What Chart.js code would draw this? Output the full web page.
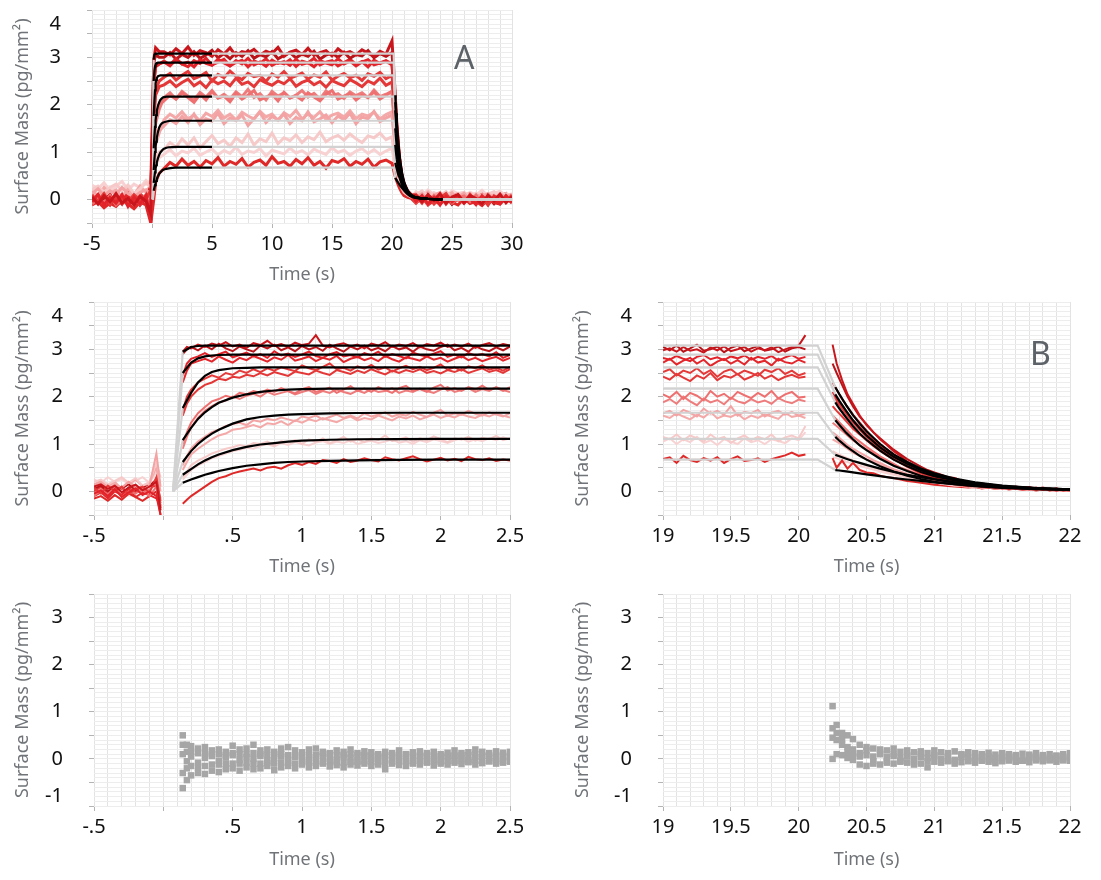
<!DOCTYPE html>
<html><head><meta charset="utf-8">
<script src="https://cdn.jsdelivr.net/npm/chart.js@4.4.1/dist/chart.umd.min.js"></script>
<style>
html,body{margin:0;padding:0;background:#fff}
body{width:1101px;height:880px;position:relative;overflow:hidden;font-family:'Noto Sans',sans-serif}
.p{position:absolute}
.p canvas{display:block}
.lbl{position:absolute;color:#5c6268;font:32px/32px 'Noto Sans',sans-serif}
</style></head><body>
<div class="p" style="left:0;top:0"><canvas id="cA" width="530" height="290"></canvas></div>
<div class="p" style="left:0;top:290px"><canvas id="cML" width="530" height="290"></canvas></div>
<div class="p" style="left:560px;top:290px"><canvas id="cMR" width="541" height="290"></canvas></div>
<div class="p" style="left:0;top:580px"><canvas id="cBL" width="530" height="300"></canvas></div>
<div class="p" style="left:560px;top:580px"><canvas id="cBR" width="541" height="300"></canvas></div>
<div class="lbl" style="left:454px;top:41px">A</div>
<div class="lbl" style="left:1030px;top:337px">B</div>
<script>
// ---------- tick labels ----------
const yLabelsTop = {'3.7':'4','3':'3','2':'2','1':'1','0':'0'};
const yLabelsBottom = {'3':'3','2':'2','1':'1','0':'0','-0.8':'-1'};

// ---------- panel A (full run) ----------
const tA = [-5,-4.5,-4,-3.5,-3,-2.5,-2,-1.5,-1,-0.5,-0.1,
 0.15,0.3,0.6,
 1,1.5,2,2.5,3,3.5,4,4.5,5,5.5,6,6.5,7,7.5,8,8.5,9,9.5,10,10.5,11,11.5,12,12.5,13,13.5,14,14.5,15,15.5,16,16.5,17,17.5,18,18.5,19,19.5,20,
 20.25,20.4,20.6,20.8,21,21.3,21.6,
 22,22.5,23,23.5,24,24.5,25,25.5,26,26.5,27,27.5,28,28.5,29,29.5,30,30.5,31];
const a1 = [0.05,-0.1,0.08,-0.05,0.12,-0.08,0.02,-0.12,0.06,-0.04,-0.3,
 2.95,3.2,3.12,
 3.12,3.05,3.18,3.08,3.22,3.04,3.14,3.1,3.02,3.16,3.07,3.2,3.03,3.12,3.09,3.17,3.05,3.13,3.08,3.21,3.02,3.11,3.15,3.06,3.19,3.04,3.1,3.14,3.03,3.18,3.08,3.12,3.05,3.16,3.09,3.02,3.13,3.07,3.35,
 2.3,1.6,0.95,0.55,0.35,0.18,0.1,
 0.08,-0.05,0.1,-0.02,0.12,-0.08,0.05,0.1,-0.06,0.08,0.02,-0.1,0.09,-0.03,0.11,-0.07,0.06,0.0,0.1];
const a2 = [-0.05,0.1,-0.12,0.04,-0.08,0.1,-0.15,0.05,-0.1,0.08,-0.45,
 2.5,2.82,2.86,
 2.92,2.84,2.97,2.86,2.9,2.8,2.95,2.87,2.83,2.96,2.88,2.82,2.93,2.86,2.98,2.84,2.9,2.81,2.94,2.87,2.91,2.83,2.96,2.85,2.89,2.8,2.93,2.88,2.84,2.97,2.86,2.92,2.82,2.9,2.95,2.84,2.88,2.93,2.86,
 2.1,1.5,0.9,0.52,0.32,0.17,0.09,
 -0.05,0.08,-0.1,0.04,-0.12,0.06,-0.04,0.09,-0.08,0.02,-0.11,0.07,-0.03,0.05,-0.09,0.08,-0.06,0.03,-0.02];
const a3 = [0.08,-0.04,0.12,-0.1,0.05,0.02,-0.06,0.1,-0.02,0.0,0.2,
 1.8,2.3,2.5,
 2.58,2.66,2.52,2.62,2.7,2.55,2.6,2.68,2.5,2.64,2.57,2.71,2.6,2.53,2.66,2.59,2.62,2.49,2.65,2.58,2.7,2.56,2.61,2.67,2.54,2.63,2.58,2.69,2.52,2.6,2.66,2.57,2.62,2.51,2.65,2.6,2.68,2.55,2.62,
 1.9,1.35,0.82,0.48,0.28,0.14,0.08,
 0.1,-0.04,0.06,-0.1,0.03,0.12,-0.06,0.04,-0.08,0.1,-0.02,0.05,-0.11,0.07,0.0,-0.05,0.09,-0.07,0.04];
const a4 = [-0.1,0.02,-0.06,0.08,-0.12,0.0,-0.05,0.06,-0.1,0.1,-0.3,
 1.1,1.7,2.0,
 2.08,2.2,2.12,2.25,2.15,2.05,2.22,2.1,2.28,2.14,2.18,2.06,2.24,2.12,2.2,2.3,2.1,2.16,2.22,2.08,2.26,2.14,2.19,2.1,2.25,2.16,2.08,2.22,2.3,2.12,2.18,2.24,2.1,2.2,2.15,2.27,2.12,2.2,2.28,
 1.55,1.1,0.68,0.4,0.24,0.12,0.07,
 -0.06,0.05,-0.1,0.08,-0.03,0.1,-0.08,0.02,0.07,-0.05,0.09,-0.1,0.04,-0.02,0.08,-0.07,0.05,-0.04,0.06];
const a5 = [0.12,0.22,0.08,0.18,0.1,0.25,0.12,0.05,0.15,0.2,0.1,
 0.6,1.2,1.45,
 1.55,1.68,1.6,1.75,1.62,1.8,1.58,1.7,1.65,1.82,1.6,1.72,1.66,1.78,1.56,1.7,1.84,1.62,1.75,1.68,1.8,1.6,1.73,1.66,1.85,1.64,1.7,1.78,1.62,1.76,1.68,1.82,1.6,1.74,1.7,1.86,1.64,1.72,1.78,
 1.2,0.85,0.52,0.3,0.18,0.1,0.06,
 0.05,0.12,-0.02,0.08,0.14,0.0,0.1,0.04,0.13,-0.03,0.09,0.06,0.12,0.0,0.1,0.05,0.11,-0.02,0.08];
const a6 = [0.2,0.28,0.15,0.25,0.32,0.18,0.3,0.12,0.22,0.35,0.25,
 0.35,0.8,1.0,
 1.05,1.2,1.1,1.28,1.15,1.3,1.08,1.22,1.35,1.18,1.25,1.12,1.3,1.2,1.38,1.15,1.28,1.22,1.4,1.18,1.3,1.24,1.36,1.2,1.32,1.26,1.42,1.22,1.3,1.35,1.25,1.38,1.28,1.2,1.34,1.3,1.4,1.26,1.32,
 0.8,0.6,0.38,0.24,0.15,0.09,0.05,
 0.1,0.18,0.06,0.14,0.08,0.16,0.04,0.12,0.15,0.07,0.13,0.05,0.11,0.16,0.08,0.12,0.04,0.1,0.14];
const a7 = [-0.12,-0.05,-0.18,-0.08,-0.15,-0.02,-0.1,-0.2,-0.06,-0.12,-0.5,
 0.0,0.35,0.55,
 0.65,0.78,0.7,0.85,0.72,0.8,0.68,0.82,0.75,0.88,0.7,0.8,0.74,0.86,0.68,0.78,0.83,0.72,0.9,0.76,0.8,0.7,0.84,0.75,0.88,0.72,0.8,0.66,0.82,0.78,0.86,0.7,0.8,0.74,0.85,0.68,0.79,0.83,0.76,
 0.5,0.38,0.25,0.15,0.08,0.04,0.02,
 -0.08,0.04,-0.12,-0.02,-0.1,0.05,-0.06,-0.12,0.02,-0.09,-0.04,-0.13,0.0,-0.07,-0.1,0.03,-0.08,-0.05,-0.11];
// replicate injections (panel A)
const ab1 = [-0.08,0.06,-0.02,0.1,-0.1,0.04,-0.06,0.08,-0.12,0.02,0.25,
 2.9,3.05,3.0,
 3.0,3.1,2.96,3.06,3.0,3.12,2.98,3.05,3.15,2.99,3.08,2.97,3.1,3.02,3.14,2.98,3.06,3.01,3.12,2.97,3.04,3.1,2.99,3.07,3.02,3.13,2.96,3.05,3.09,3.0,3.11,2.98,3.06,3.03,3.14,2.99,3.08,3.02,3.1,
 2.2,1.55,0.92,0.5,0.3,0.16,0.08,
 0.02,0.1,-0.08,0.06,-0.04,0.12,-0.1,0.03,0.08,-0.06,0.1,-0.02,0.05,-0.09,0.07,0.12,-0.04,0.06,-0.08];
const ab2 = [0.1,-0.06,0.04,-0.12,0.08,-0.03,0.12,-0.08,0.05,-0.05,-0.2,
 2.4,2.8,2.86,
 2.9,2.82,2.95,2.86,2.8,2.93,2.87,2.98,2.84,2.9,2.96,2.82,2.89,2.94,2.8,2.92,2.87,2.97,2.83,2.9,2.86,2.95,2.81,2.92,2.88,2.98,2.84,2.9,2.93,2.82,2.89,2.96,2.85,2.91,2.8,2.94,2.87,2.92,2.84,
 2.0,1.42,0.85,0.48,0.28,0.15,0.08,
 -0.02,0.06,-0.09,0.1,-0.05,0.03,-0.1,0.07,-0.03,0.09,-0.07,0.04,-0.12,0.06,0.0,0.08,-0.05,0.1,-0.03];
const ab3 = [-0.04,0.1,-0.08,0.06,0.0,-0.1,0.08,-0.05,0.12,-0.02,0.3,
 1.7,2.2,2.38,
 2.42,2.5,2.38,2.47,2.54,2.4,2.48,2.36,2.52,2.44,2.5,2.4,2.56,2.43,2.48,2.38,2.53,2.46,2.41,2.5,2.44,2.55,2.39,2.47,2.52,2.42,2.49,2.37,2.51,2.45,2.4,2.53,2.46,2.38,2.5,2.44,2.56,2.41,2.48,
 1.8,1.28,0.78,0.45,0.27,0.14,0.07,
 0.06,-0.08,0.1,-0.03,0.08,-0.1,0.05,0.12,-0.06,0.02,0.09,-0.08,0.04,-0.02,0.1,-0.06,0.03,0.08,-0.04];
const ab4 = [0.06,-0.08,0.1,-0.02,0.05,-0.1,0.12,-0.04,0.08,0.0,-0.15,
 1.0,1.6,1.9,
 2.15,2.25,2.12,2.28,2.18,2.1,2.26,2.16,2.3,2.14,2.22,2.12,2.27,2.17,2.32,2.15,2.23,2.1,2.28,2.18,2.25,2.14,2.2,2.3,2.16,2.24,2.12,2.29,2.18,2.23,2.13,2.27,2.19,2.25,2.15,2.31,2.17,2.22,2.28,
 1.35,0.95,0.6,0.35,0.2,0.11,0.06,
 -0.04,0.08,-0.06,0.1,0.0,-0.08,0.06,-0.02,0.09,-0.05,0.04,0.11,-0.07,0.05,-0.03,0.08,-0.06,0.02,0.07];
const ab5 = [0.18,0.08,0.25,0.12,0.2,0.05,0.22,0.1,0.28,0.15,0.3,
 0.55,1.15,1.4,
 1.68,1.8,1.72,1.85,1.7,1.78,1.66,1.82,1.75,1.88,1.72,1.8,1.68,1.84,1.76,1.7,1.86,1.74,1.8,1.67,1.83,1.75,1.88,1.7,1.8,1.73,1.85,1.69,1.78,1.82,1.74,1.87,1.71,1.8,1.76,1.84,1.7,1.79,1.85,
 1.0,0.72,0.45,0.27,0.16,0.09,0.05,
 0.12,0.04,0.15,0.0,0.1,0.06,0.14,-0.02,0.09,0.12,0.03,0.1,0.07,0.15,0.02,0.11,0.06,0.13,0.04];
const ab6 = [0.3,0.22,0.35,0.18,0.28,0.38,0.2,0.32,0.25,0.4,0.3,
 0.3,0.7,0.88,
 0.95,1.05,0.92,1.02,0.98,1.08,0.93,1.0,1.06,0.94,1.03,0.97,1.1,0.95,1.02,0.99,1.07,0.92,1.04,1.0,0.96,1.08,0.98,1.03,0.94,1.06,1.0,0.95,1.09,0.99,1.04,0.93,1.02,1.07,0.97,1.05,0.95,1.02,1.08,
 0.72,0.52,0.33,0.2,0.12,0.07,0.04,
 0.16,0.08,0.2,0.1,0.14,0.05,0.18,0.12,0.06,0.15,0.09,0.19,0.07,0.13,0.17,0.06,0.12,0.15,0.08];

// ---------- association zoom (middle left) ----------
const tMpre = [-0.5,-0.45,-0.4,-0.35,-0.3,-0.25,-0.2,-0.15,-0.1,-0.05,-0.02];
const tMpost = [0.14,0.17,0.2,0.25,0.3,0.35,0.4,0.45,0.5,0.55,0.6,0.65,0.7,0.75,0.8,0.85,0.9,0.95,1,1.05,1.1,1.15,1.2,1.25,1.3,1.35,1.4,1.45,1.5,1.55,1.6,1.65,1.7,1.75,1.8,1.85,1.9,1.95,2,2.05,2.1,2.15,2.2,2.25,2.3,2.35,2.4,2.45,2.5,2.55];
const mp1 = [0.1,0.15,0.05,0.12,-0.02,0.08,0.14,0.02,0.1,0.2,-0.4];
const mp2 = [-0.05,0.02,-0.1,0.05,-0.12,-0.02,0.06,-0.08,0.0,-0.1,-0.5];
const mp3 = [0.08,-0.05,0.12,0.0,0.1,-0.06,0.05,0.1,-0.03,0.3,-0.2];
const mp4 = [-0.1,0.02,-0.06,0.08,-0.12,0.0,-0.05,0.06,-0.1,0.1,-0.3];
const mp5 = [0.12,0.18,0.05,0.15,0.08,0.2,0.1,0.02,0.12,0.8,0.1];
const mp6 = [0.2,0.25,0.15,0.22,0.3,0.18,0.28,0.12,0.2,0.6,0.3];
const mp7 = [-0.15,-0.1,-0.2,-0.08,-0.18,-0.05,-0.12,-0.2,-0.1,0.0,-0.5];
const m1 = [2.95,3.05,3.02,3.1,3.05,3.12,3.08,3.15,3.06,3.1,3.03,3.13,3.09,3.18,3.07,3.11,3.05,3.14,3.09,3.12,3.3,3.08,3.04,3.1,3.13,3.06,3.1,3.02,3.12,3.08,3.15,3.05,3.1,3.07,3.13,3.04,3.11,3.08,3.14,3.05,3.1,3.06,3.12,3.03,3.09,3.13,3.06,3.11,3.08,3.12];
const m2 = [2.45,2.7,2.8,2.85,2.92,2.84,2.9,2.95,2.83,2.88,2.93,2.85,2.9,2.82,2.96,2.87,2.91,2.84,2.89,2.95,2.86,2.82,2.9,2.94,2.85,2.88,2.83,2.92,2.87,2.95,2.84,2.9,2.86,2.81,2.93,2.88,2.85,2.91,2.96,2.84,2.89,2.83,2.92,2.87,2.9,2.85,2.94,2.82,2.88,2.9];
const m3 = [1.7,2.0,2.15,2.3,2.38,2.45,2.4,2.5,2.46,2.55,2.5,2.58,2.52,2.6,2.55,2.62,2.58,2.54,2.66,2.6,2.56,2.63,2.7,2.58,2.61,2.55,2.64,2.59,2.67,2.57,2.62,2.53,2.6,2.65,2.58,2.63,2.56,2.61,2.68,2.57,2.62,2.55,2.64,2.6,2.66,2.57,2.61,2.55,2.63,2.6];
const m4 = [1.0,1.25,1.45,1.65,1.78,1.9,1.95,2.02,1.98,2.08,2.05,2.12,2.08,2.15,2.1,2.18,2.12,2.07,2.16,2.2,2.1,2.14,2.19,2.08,2.15,2.22,2.12,2.17,2.1,2.2,2.14,2.08,2.18,2.23,2.12,2.16,2.1,2.19,2.25,2.13,2.18,2.12,2.2,2.15,2.23,2.14,2.19,2.12,2.2,2.22];
const m5 = [0.55,0.75,0.9,1.05,1.15,1.25,1.3,1.38,1.42,1.45,1.4,1.5,1.47,1.53,1.5,1.56,1.52,1.48,1.58,1.55,1.6,1.52,1.57,1.62,1.55,1.6,1.54,1.65,1.58,1.62,1.67,1.58,1.63,1.6,1.68,1.62,1.57,1.66,1.72,1.6,1.65,1.62,1.7,1.64,1.6,1.67,1.62,1.58,1.65,1.68];
const m6 = [0.3,0.42,0.55,0.65,0.72,0.8,0.85,0.9,0.93,0.98,0.95,1.02,1.0,1.05,0.98,1.06,1.03,1.08,1.0,1.1,1.05,1.12,1.02,1.08,1.15,1.05,1.1,1.04,1.12,1.08,1.18,1.06,1.1,1.14,1.05,1.12,1.08,1.16,1.1,1.04,1.12,1.09,1.15,1.07,1.13,1.1,1.17,1.08,1.12,1.14];
const m7 = [-0.26,-0.18,-0.1,0.0,0.1,0.2,0.28,0.32,0.38,0.42,0.45,0.48,0.44,0.5,0.52,0.48,0.55,0.6,0.56,0.62,0.58,0.66,0.64,0.6,0.68,0.62,0.65,0.7,0.66,0.63,0.72,0.68,0.65,0.7,0.74,0.68,0.63,0.67,0.71,0.65,0.69,0.64,0.73,0.68,0.66,0.7,0.64,0.67,0.65,0.68];
// replicate injections
const mpb1 = [0.05,0.12,0.0,0.1,0.06,0.15,0.02,0.08,0.12,0.25,-0.35];
const mpb2 = [-0.1,-0.02,-0.15,0.0,-0.08,0.04,-0.12,-0.03,-0.08,-0.15,-0.3];
const mpb3 = [0.0,0.1,-0.04,0.06,-0.08,0.08,-0.02,0.04,0.12,0.1,-0.25];
const mpb4 = [-0.05,0.05,-0.1,0.02,0.06,-0.04,0.08,-0.02,0.04,0.15,-0.15];
const mpb5 = [0.15,0.22,0.1,0.2,0.05,0.15,0.25,0.1,0.18,0.5,0.0];
const mpb6 = [0.25,0.18,0.3,0.2,0.26,0.15,0.22,0.3,0.18,0.4,0.2];
const mb1 = [2.9,3.0,3.05,2.98,3.08,3.0,3.12,3.02,2.96,3.06,3.0,2.95,3.08,3.02,3.1,2.98,3.04,2.96,3.07,3.0,3.05,2.97,3.1,3.02,2.95,3.06,3.0,3.08,2.98,3.03,2.96,3.07,3.0,3.04,2.95,3.06,3.0,2.97,3.05,3.1,2.98,3.03,2.95,3.07,3.0,2.96,3.04,2.98,3.06,3.02];
const mb2 = [2.3,2.55,2.7,2.75,2.8,2.74,2.85,2.78,2.72,2.82,2.77,2.86,2.8,2.74,2.83,2.78,2.88,2.76,2.8,2.85,2.75,2.82,2.78,2.86,2.73,2.8,2.84,2.77,2.82,2.75,2.86,2.79,2.74,2.83,2.8,2.76,2.85,2.78,2.82,2.74,2.8,2.86,2.77,2.82,2.75,2.8,2.84,2.76,2.82,2.78];
const mb3 = [1.6,1.85,2.0,2.15,2.25,2.3,2.38,2.35,2.42,2.4,2.46,2.43,2.5,2.45,2.52,2.48,2.44,2.53,2.5,2.47,2.55,2.5,2.46,2.56,2.52,2.48,2.55,2.5,2.58,2.52,2.47,2.55,2.5,2.56,2.52,2.58,2.5,2.54,2.49,2.56,2.52,2.58,2.5,2.55,2.6,2.52,2.56,2.5,2.58,2.54];
const mb4 = [0.9,1.15,1.35,1.55,1.7,1.8,1.88,1.92,2.0,1.95,2.02,2.06,2.0,2.1,2.04,2.08,2.12,2.05,2.1,2.14,2.06,2.12,2.08,2.15,2.1,2.06,2.13,2.08,2.16,2.1,2.12,2.18,2.08,2.13,2.1,2.17,2.12,2.08,2.15,2.2,2.1,2.14,2.18,2.1,2.16,2.12,2.2,2.14,2.1,2.17];
const mb5 = [0.45,0.62,0.78,0.9,1.0,1.1,1.18,1.22,1.3,1.32,1.36,1.4,1.35,1.44,1.42,1.48,1.4,1.5,1.45,1.52,1.48,1.55,1.5,1.46,1.53,1.58,1.5,1.55,1.52,1.6,1.55,1.5,1.58,1.54,1.6,1.52,1.57,1.62,1.55,1.6,1.56,1.63,1.58,1.55,1.62,1.58,1.65,1.6,1.56,1.62];
const mb6 = [0.25,0.35,0.45,0.55,0.62,0.7,0.75,0.8,0.85,0.88,0.92,0.9,0.96,1.0,0.95,1.02,0.98,1.04,1.0,0.97,1.03,1.06,1.0,1.05,1.02,1.08,1.0,1.04,1.07,1.02,1.05,1.1,1.03,1.06,1.0,1.08,1.04,1.1,1.06,1.02,1.08,1.12,1.05,1.1,1.06,1.12,1.08,1.14,1.1,1.12];

// ---------- dissociation zoom (middle right) ----------
const tRpre = [19,19.05,19.1,19.15,19.2,19.25,19.3,19.35,19.4,19.45,19.5,19.55,19.6,19.65,19.7,19.75,19.8,19.85,19.9,19.95,20,20.05];
const tRpost = [20.25,20.28,20.32,20.36,20.4,20.45,20.5,20.55,20.6,20.65,20.7,20.75,20.8,20.85,20.9,20.95,21,21.05,21.1,21.15,21.2,21.25,21.3,21.35,21.4,21.45,21.5,21.55,21.6,21.65,21.7,21.75,21.8,21.85,21.9,21.95,22];
const rp1 = [2.98,3.02,2.95,3.05,2.97,3.0,2.93,3.04,2.98,3.06,2.96,3.0,3.05,2.95,3.02,2.98,3.04,2.94,3.0,3.05,3.08,3.3];
const rp2 = [2.82,2.78,2.86,2.8,2.75,2.84,2.88,2.79,2.83,2.77,2.85,2.81,2.87,2.78,2.84,2.8,2.86,2.76,2.83,2.88,2.8,2.84];
const rp3 = [2.52,2.58,2.45,2.55,2.5,2.6,2.48,2.56,2.42,2.53,2.58,2.47,2.55,2.5,2.44,2.57,2.52,2.6,2.48,2.55,2.45,2.5];
const rp4 = [2.05,1.98,2.1,1.95,2.08,2.02,1.92,2.12,2.0,2.06,1.95,2.1,2.03,1.97,2.08,2.0,2.12,1.96,2.05,2.1,1.98,2.0];
const rp5 = [1.65,1.7,1.6,1.72,1.66,1.58,1.75,1.64,1.7,1.62,1.8,1.6,1.68,1.65,1.72,1.58,1.66,1.7,1.62,1.68,1.6,1.65];
const rp6 = [1.15,1.1,1.2,1.08,1.18,1.12,1.05,1.2,1.1,1.15,1.02,1.12,1.18,1.08,1.15,1.1,1.2,1.06,1.14,1.18,1.12,1.38];
const rp7 = [0.68,0.72,0.6,0.75,0.66,0.62,0.7,0.65,0.72,0.6,0.68,0.74,0.64,0.66,0.7,0.62,0.68,0.72,0.76,0.82,0.75,0.78];
const r1 = [3.1,2.7,2.35,2.05,1.85,1.6,1.4,1.25,1.1,0.98,0.85,0.75,0.62,0.55,0.45,0.4,0.33,0.28,0.25,0.2,0.17,0.15,0.13,0.1,0.12,0.08,0.1,0.06,0.09,0.05,0.08,0.04,0.07,0.03,0.06,0.02,0.04];
const r2 = [2.3,2.15,1.95,1.78,1.62,1.45,1.28,1.12,1.0,0.88,0.78,0.68,0.58,0.5,0.42,0.36,0.3,0.26,0.22,0.18,0.15,0.12,0.14,0.1,0.08,0.11,0.06,0.09,0.05,0.07,0.04,0.08,0.03,0.06,0.02,0.05,0.03];
const r3 = [2.0,1.9,1.75,1.6,1.45,1.3,1.15,1.02,0.9,0.8,0.7,0.6,0.52,0.45,0.38,0.33,0.27,0.24,0.2,0.16,0.14,0.11,0.13,0.09,0.1,0.07,0.09,0.05,0.08,0.04,0.06,0.03,0.07,0.02,0.05,0.03,0.04];
const r4 = [1.6,1.52,1.4,1.28,1.16,1.05,0.94,0.84,0.74,0.66,0.58,0.5,0.44,0.38,0.33,0.28,0.24,0.2,0.17,0.15,0.12,0.1,0.12,0.08,0.1,0.06,0.08,0.05,0.07,0.04,0.06,0.03,0.05,0.02,0.04,0.03,0.02];
const r5 = [1.25,1.18,1.08,0.98,0.9,0.82,0.74,0.66,0.6,0.53,0.47,0.42,0.37,0.32,0.28,0.24,0.21,0.18,0.16,0.14,0.12,0.1,0.11,0.08,0.09,0.06,0.08,0.05,0.07,0.04,0.06,0.03,0.05,0.03,0.04,0.02,0.03];
const r6 = [0.85,0.8,0.75,0.7,0.65,0.6,0.55,0.5,0.46,0.42,0.38,0.34,0.3,0.27,0.24,0.21,0.19,0.16,0.14,0.12,0.11,0.09,0.1,0.07,0.09,0.06,0.07,0.05,0.06,0.04,0.05,0.03,0.05,0.02,0.04,0.02,0.03];
const r7 = [0.7,0.5,0.65,0.48,0.6,0.45,0.4,0.38,0.33,0.3,0.28,0.25,0.22,0.2,0.18,0.16,0.14,0.13,0.11,0.1,0.09,0.08,0.09,0.06,0.08,0.05,0.07,0.04,0.06,0.03,0.05,0.02,0.04,0.03,0.02,0.04,0.01];
// replicate injections
const rpb1 = [3.05,2.98,3.08,2.95,3.02,3.1,2.97,3.0,3.06,2.94,3.03,3.08,2.96,3.02,3.07,2.97,3.0,3.06,2.95,3.02,3.05,3.0];
const rpb2 = [2.72,2.8,2.68,2.76,2.82,2.7,2.78,2.65,2.74,2.8,2.7,2.77,2.68,2.82,2.72,2.76,2.66,2.8,2.73,2.7,2.78,2.72];
const rpb3 = [2.42,2.36,2.48,2.4,2.33,2.45,2.38,2.5,2.35,2.44,2.4,2.48,2.36,2.42,2.5,2.38,2.45,2.35,2.42,2.46,2.4,2.42];
const rpb4 = [1.88,1.95,1.85,2.0,1.9,1.82,1.96,1.88,1.93,1.84,1.98,1.9,1.86,1.95,1.88,1.92,1.85,1.97,1.9,1.86,1.94,1.9];
const rpb5 = [1.6,1.55,1.65,1.58,1.52,1.62,1.56,1.68,1.54,1.6,1.57,1.64,1.52,1.6,1.55,1.62,1.58,1.53,1.66,1.57,1.6,1.55];
const rpb6 = [1.05,1.12,1.0,1.1,1.04,1.15,1.02,1.08,0.98,1.1,1.05,1.0,1.12,1.04,1.08,1.0,1.1,1.06,1.02,1.12,1.08,1.25];
const rb1 = [2.7,2.5,2.25,2.0,1.8,1.58,1.42,1.25,1.12,1.0,0.88,0.78,0.68,0.6,0.52,0.45,0.4,0.35,0.3,0.28,0.22,0.2,0.17,0.14,0.15,0.11,0.12,0.08,0.1,0.07,0.09,0.05,0.08,0.04,0.06,0.03,0.05];
const rb2 = [2.1,1.95,1.8,1.65,1.5,1.36,1.2,1.08,0.95,0.85,0.75,0.65,0.56,0.48,0.42,0.36,0.31,0.27,0.23,0.2,0.16,0.14,0.12,0.1,0.11,0.08,0.09,0.06,0.08,0.05,0.07,0.04,0.06,0.03,0.05,0.03,0.04];
const rb3 = [1.8,1.7,1.58,1.45,1.32,1.2,1.08,0.96,0.86,0.76,0.68,0.6,0.52,0.46,0.4,0.35,0.3,0.26,0.22,0.19,0.16,0.14,0.12,0.1,0.11,0.08,0.09,0.06,0.07,0.05,0.06,0.04,0.05,0.03,0.04,0.02,0.03];
const rb4 = [1.45,1.38,1.28,1.18,1.08,0.98,0.88,0.8,0.72,0.64,0.57,0.5,0.45,0.4,0.35,0.3,0.26,0.23,0.2,0.17,0.15,0.13,0.11,0.1,0.09,0.08,0.07,0.06,0.06,0.05,0.05,0.04,0.04,0.03,0.03,0.02,0.02];
const rb5 = [1.1,1.05,0.98,0.9,0.82,0.75,0.68,0.62,0.56,0.5,0.45,0.4,0.36,0.32,0.28,0.25,0.22,0.19,0.17,0.15,0.13,0.11,0.1,0.09,0.08,0.07,0.06,0.06,0.05,0.05,0.04,0.04,0.03,0.03,0.03,0.02,0.02];
const rb6 = [0.72,0.7,0.66,0.62,0.58,0.54,0.5,0.46,0.42,0.38,0.35,0.32,0.29,0.26,0.23,0.21,0.19,0.17,0.15,0.13,0.12,0.1,0.09,0.08,0.08,0.07,0.06,0.05,0.05,0.04,0.04,0.03,0.03,0.03,0.02,0.02,0.02];

// ---------- fitted curves ----------
const tFa = [0.14,0.2,0.25,0.3,0.35,0.4,0.5,0.6,0.7,0.8,0.9,1,1.2,1.4,1.7,2,2.5,3,4,5];
const fa1 = [2.95,3.05,3.07,3.08,3.08,3.08,3.08,3.08,3.08,3.08,3.08,3.08,3.08,3.08,3.08,3.08,3.08,3.08,3.08,3.08];
const fa2 = [2.5,2.72,2.81,2.85,2.87,2.88,2.89,2.89,2.89,2.89,2.89,2.89,2.89,2.89,2.89,2.89,2.89,2.89,2.89,2.89];
const fa3 = [1.76,2.08,2.3,2.44,2.52,2.56,2.6,2.61,2.62,2.62,2.62,2.62,2.62,2.62,2.62,2.62,2.62,2.62,2.62,2.62];
const fa4 = [1.08,1.34,1.53,1.67,1.78,1.87,1.98,2.05,2.1,2.13,2.15,2.16,2.17,2.17,2.17,2.17,2.17,2.17,2.17,2.17];
const fa5 = [0.62,0.85,1.0,1.12,1.22,1.3,1.43,1.52,1.57,1.6,1.62,1.63,1.645,1.655,1.66,1.66,1.66,1.66,1.66,1.66];
const fa6 = [0.35,0.47,0.57,0.65,0.72,0.78,0.87,0.94,0.99,1.02,1.05,1.07,1.09,1.1,1.105,1.11,1.11,1.11,1.11,1.11];
const fa7 = [0.18,0.25,0.3,0.35,0.39,0.43,0.49,0.54,0.57,0.6,0.62,0.63,0.645,0.655,0.665,0.67,0.67,0.67,0.67,0.67];
const tFd = [20.27,20.3,20.35,20.4,20.45,20.5,20.6,20.7,20.8,20.9,21,21.15,21.3,21.5,21.75,22,22.5,23,24.2];
const fd1 = [2.2,2.05,1.82,1.61,1.43,1.27,1.0,0.78,0.62,0.48,0.38,0.27,0.19,0.12,0.07,0.04,0.02,0.01,0];
const fd2 = [2.05,1.91,1.7,1.5,1.33,1.18,0.93,0.73,0.58,0.45,0.35,0.25,0.18,0.11,0.07,0.04,0.02,0.01,0];
const fd3 = [1.88,1.75,1.56,1.38,1.22,1.09,0.86,0.67,0.53,0.41,0.32,0.23,0.16,0.1,0.06,0.035,0.02,0.01,0];
const fd4 = [1.5,1.4,1.24,1.1,0.97,0.87,0.69,0.54,0.43,0.33,0.26,0.19,0.13,0.09,0.05,0.03,0.015,0.01,0];
const fd5 = [1.15,1.07,0.95,0.85,0.75,0.67,0.53,0.42,0.33,0.26,0.2,0.15,0.11,0.07,0.045,0.03,0.015,0.01,0];
const fd6 = [0.77,0.74,0.69,0.64,0.6,0.56,0.48,0.41,0.35,0.3,0.25,0.19,0.15,0.1,0.06,0.04,0.02,0.01,0];
const fd7 = [0.45,0.44,0.42,0.4,0.38,0.36,0.32,0.28,0.25,0.22,0.19,0.15,0.12,0.09,0.06,0.04,0.02,0.01,0];
// times of the grey (unfitted) parts of the model
const tGrey = [0.07,0.14,5,20.14,20.27,24.2,31];

// ---------- residuals ----------
const res1 = [0.5,0.3,0.27,0.22,0.25,0.18,0.2,0.15,0.28,0.2,0.22,0.3,0.18,0.2,0.15,0.22,0.25,0.18,0.14,0.2,0.22,0.15,0.12,0.18,0.15,0.2,0.12,0.16,0.14,0.1,0.15,0.12,0.18,0.1,0.14,0.16,0.12,0.15,0.1,0.13,0.18,0.12,0.14,0.2,0.15,0.12,0.16,0.13,0.15,0.12];
const res2 = [0.1,-0.05,0.05,-0.08,0.02,0.06,-0.04,0.03,0.08,-0.02,0.04,0.0,0.06,-0.03,0.02,0.05,-0.02,0.04,0.0,-0.04,0.03,0.06,0.0,-0.02,0.04,0.02,-0.03,0.05,0.0,0.02,-0.02,0.04,0.0,0.03,-0.04,0.02,0.05,0.0,-0.02,0.03,0.06,0.01,-0.02,0.04,0.07,0.02,0.0,0.05,0.03,0.01];
const res3 = [-0.62,-0.45,-0.35,-0.3,-0.32,-0.25,-0.28,-0.22,-0.2,-0.25,-0.18,-0.22,-0.2,-0.15,-0.24,-0.18,-0.15,-0.2,-0.12,-0.18,-0.15,-0.1,-0.16,-0.13,-0.18,-0.12,-0.14,-0.1,-0.15,-0.12,-0.22,-0.1,-0.13,-0.15,-0.1,-0.12,-0.08,-0.14,-0.1,-0.12,-0.08,-0.11,-0.07,-0.12,-0.09,-0.05,-0.1,-0.08,-0.06,-0.12];
const res4 = [0.3,0.15,-0.15,0.12,-0.15,0.1,-0.12,0.08,-0.1,0.1,-0.08,0.12,-0.1,0.08,-0.1,0.1,-0.08,0.08,-0.06,0.08,-0.08,0.1,-0.06,0.08,-0.08,0.1,-0.06,0.08,-0.07,0.06,-0.1,0.08,-0.06,0.1,-0.08,0.06,-0.05,0.08,-0.06,0.07,-0.04,0.08,-0.06,0.1,-0.05,0.07,-0.06,0.09,-0.04,0.06];
const res5 = [-0.3,-0.2,0.15,-0.18,0.12,-0.12,0.1,-0.1,0.12,-0.1,0.1,-0.1,0.1,-0.08,0.1,-0.08,0.08,-0.1,0.08,-0.07,0.08,-0.06,0.1,-0.07,0.08,-0.06,0.08,-0.05,0.07,-0.06,0.08,-0.06,0.07,-0.05,0.08,-0.04,0.07,-0.06,0.06,-0.05,0.07,-0.05,0.08,-0.04,0.06,-0.05,0.07,-0.04,0.06,-0.05];
const resR1 = [1.12,0.72,0.55,0.5,0.42,0.3,0.25,0.22,0.2,0.18,0.22,0.15,0.18,0.14,0.16,0.12,0.18,0.14,0.12,0.16,0.1,0.14,0.12,0.1,0.13,0.09,0.12,0.1,0.08,0.11,0.09,0.12,0.08,0.1,0.07,0.1,0.12];
const resR2 = [0.45,0.4,0.3,0.25,0.2,0.12,0.08,0.05,0.1,0.04,0.06,0.02,0.05,0.0,0.04,0.02,0.06,0.0,0.03,-0.02,0.04,0.02,0.0,0.03,-0.01,0.02,0.04,0.0,0.02,-0.02,0.03,0.01,0.0,0.02,-0.01,0.02,0.04];
const resR3 = [0.0,0.1,0.08,0.02,-0.02,-0.12,-0.15,-0.1,-0.12,-0.08,-0.1,-0.06,-0.08,-0.12,-0.1,-0.18,-0.06,-0.08,-0.05,-0.1,-0.07,-0.05,-0.08,-0.04,-0.06,-0.09,-0.05,-0.03,-0.06,-0.04,-0.07,-0.03,-0.05,-0.02,-0.06,-0.03,-0.04];
const resR4 = [0.65,0.55,0.42,0.15,0.1,0.05,0.18,-0.05,0.12,-0.04,0.1,-0.04,0.08,-0.06,0.1,-0.05,0.08,-0.04,0.06,-0.05,0.08,-0.04,0.07,-0.03,0.06,-0.05,0.07,-0.03,0.05,-0.04,0.06,-0.02,0.05,-0.03,0.06,-0.02,0.05];

// ---------- build ----------
Chart.defaults.font.family = "'Noto Sans', sans-serif";
const TRACE_COL = ['#c9161c','#e2232a','#e53a3a','#ee7070','#f3a3a3','#f7caca','#df2929'];
const TRACE_COL_B = ['#b8141a','#e3262b','#e43838','#ef7c7c','#f4a8a8','#f8d2d2'];
const GREY_FIT = '#d2d2d2';
const TITLE_COL = '#707478';

const A = [a1,a2,a3,a4,a5,a6,a7], AB = [ab1,ab2,ab3,ab4,ab5,ab6];
const MP = [mp1,mp2,mp3,mp4,mp5,mp6,mp7], M = [m1,m2,m3,m4,m5,m6,m7];
const MPB = [mpb1,mpb2,mpb3,mpb4,mpb5,mpb6], MB = [mb1,mb2,mb3,mb4,mb5,mb6];
const RP = [rp1,rp2,rp3,rp4,rp5,rp6,rp7], R = [r1,r2,r3,r4,r5,r6,r7];
const RPB = [rpb1,rpb2,rpb3,rpb4,rpb5,rpb6], RB = [rb1,rb2,rb3,rb4,rb5,rb6];
const FA = [fa1,fa2,fa3,fa4,fa5,fa6,fa7], FD = [fd1,fd2,fd3,fd4,fd5,fd6,fd7];

const pts = (t, v) => t.map((x, i) => ({x, y: v[i]}));
const withGap = (a, gx, b) => a.concat([{x: gx, y: null}], b);
const line = (data, color, w, order) => ({data, borderColor: color, borderWidth: w, pointRadius: 0, fill: false, tension: 0, order, spanGaps: false});
const greyModel = k => {
  const f = FA[k], d = FD[k], P = f[f.length - 1];
  return [{x: tGrey[0], y: 0}, {x: tGrey[1], y: f[0]}, {x: tGrey[1] + 0.005, y: null},
          {x: tGrey[2], y: P}, {x: tGrey[3], y: P}, {x: tGrey[4], y: d[0]}, {x: tGrey[4] + 0.005, y: null},
          {x: tGrey[5], y: 0}, {x: tGrey[6], y: 0}];
};
const squares = (t, v) => ({data: pts(t, v), showLine: false, pointStyle: 'rect', pointRadius: 4.6, pointBackgroundColor: '#a6a6a6', pointBorderWidth: 0, pointBorderColor: 'rgba(0,0,0,0)', borderColor: 'rgba(0,0,0,0)'});

const half = v => Math.round(v * 10) % 5 === 0;
const halfLabel = v => { const r = Math.round(v * 10) / 10; if (!half(r) || r === 0) return ''; return String(r).replace(/^(-?)0\./, '$1.'); };

function xAxis(o) {
  return {
    type: 'linear', min: o.min, max: o.max,
    border: {display: false},
    grid: {color: '#e3e3e3', tickLength: 5, tickColor: c => o.tickOn(c.tick.value) ? '#b4b4b4' : 'rgba(0,0,0,0)'},
    ticks: {stepSize: o.step, autoSkip: false, maxRotation: 0, minRotation: 0, padding: 4, color: '#111', font: {size: 20}, callback: o.label},
    title: {display: true, text: 'Time (s)', color: TITLE_COL, font: {size: 18}, padding: {top: 0, bottom: o.tpb}},
    afterFit: s => { s.height = o.h; s.paddingLeft = 0; s.paddingRight = 0; }
  };
}
function yAxis(o) {
  return {
    type: 'linear', min: o.min, max: o.max,
    border: {display: false},
    grid: {color: '#ededed', tickLength: 5, tickColor: c => half(c.tick.value) ? '#b4b4b4' : 'rgba(0,0,0,0)'},
    ticks: {stepSize: 0.1, autoSkip: false, padding: 26, color: '#111', font: {size: 20},
            callback: v => o.labels[String(Math.round(v * 10) / 10)] || ''},
    title: {display: true, text: 'Surface Mass (pg/mm²)', color: TITLE_COL, font: {size: 18}, padding: {top: 12, bottom: 0}},
    afterFit: s => { s.width = o.w; s.paddingTop = 0; s.paddingBottom = 0; }
  };
}
function make(id, datasets, pad, x, y) {
  return new Chart(document.getElementById(id), {
    type: 'line',
    data: {datasets},
    options: {
      responsive: false, animation: false, events: [],
      layout: {padding: pad},
      plugins: {legend: {display: false}, tooltip: {enabled: false}},
      scales: {x: xAxis(x), y: yAxis(y)}
    }
  });
}

// Panel A
const dsA = [];
for (let k = 0; k < 7; k++) dsA.push(line(pts(tA, A[k]), TRACE_COL[k], 3, 2));
for (let k = 0; k < 6; k++) dsA.push(line(pts(tA, AB[k]), TRACE_COL_B[k], 3, 3));
for (let k = 0; k < 7; k++) dsA.push(line(greyModel(k), GREY_FIT, 2.2, 1));
for (let k = 0; k < 7; k++) dsA.push(line(pts(tFa, FA[k]), '#000', 2.2, 0));
for (let k = 0; k < 7; k++) dsA.push(line(pts(tFd, FD[k]), '#000', 2.2, 0));
make('cA', dsA, {top: 10, right: 18, left: 0, bottom: 0},
  {min: -5, max: 30, step: 1, tickOn: v => v % 5 === 0, label: v => (v % 5 === 0 && v !== 0) ? String(v) : '', h: 67, tpb: 4},
  {min: -0.5, max: 4, labels: yLabelsTop, w: 92});

// Middle left (association)
const dsML = [];
for (let k = 0; k < 7; k++) dsML.push(line(withGap(pts(tMpre, MP[k]), 0.05, pts(tMpost, M[k])), TRACE_COL[k], 2, 2));
for (let k = 0; k < 6; k++) dsML.push(line(withGap(pts(tMpre, MPB[k]), 0.05, pts(tMpost, MB[k])), TRACE_COL_B[k], 2, 3));
for (let k = 0; k < 7; k++) dsML.push(line(greyModel(k), GREY_FIT, 2.2, 1));
for (let k = 0; k < 7; k++) dsML.push(line(pts(tFa, FA[k]), '#000', 2.2, 0));
make('cML', dsML, {top: 12, right: 20, left: 0, bottom: 0},
  {min: -0.5, max: 2.5, step: 0.1, tickOn: half, label: halfLabel, h: 65, tpb: 2},
  {min: -0.5, max: 4, labels: yLabelsTop, w: 94});

// Middle right (dissociation)
const dsMR = [];
for (let k = 0; k < 7; k++) dsMR.push(line(withGap(pts(tRpre, RP[k]), 20.15, pts(tRpost, R[k])), TRACE_COL[k], 2, 2));
for (let k = 0; k < 6; k++) dsMR.push(line(withGap(pts(tRpre, RPB[k]), 20.15, pts(tRpost, RB[k])), TRACE_COL_B[k], 2, 3));
for (let k = 0; k < 7; k++) dsMR.push(line(greyModel(k), GREY_FIT, 2.2, 1));
for (let k = 0; k < 7; k++) dsMR.push(line(pts(tFd, FD[k]), '#000', 2.2, 0));
make('cMR', dsMR, {top: 12, right: 31, left: 0, bottom: 0},
  {min: 19, max: 22, step: 0.1, tickOn: half, label: halfLabel, h: 65, tpb: 2},
  {min: -0.5, max: 4, labels: yLabelsTop, w: 103});

// Bottom left residuals
make('cBL', [squares(tMpost, res1), squares(tMpost, res2), squares(tMpost, res3), squares(tMpost, res4), squares(tMpost, res5)],
  {top: 14, right: 20, left: 0, bottom: 0},
  {min: -0.5, max: 2.5, step: 0.1, tickOn: half, label: halfLabel, h: 74, tpb: 9},
  {min: -1, max: 3.5, labels: yLabelsBottom, w: 94});

// Bottom right residuals
make('cBR', [squares(tRpost, resR1), squares(tRpost, resR2), squares(tRpost, resR3), squares(tRpost, resR4)],
  {top: 14, right: 31, left: 0, bottom: 0},
  {min: 19, max: 22, step: 0.1, tickOn: half, label: halfLabel, h: 74, tpb: 9},
  {min: -1, max: 3.5, labels: yLabelsBottom, w: 103});
</script>
</body></html>
